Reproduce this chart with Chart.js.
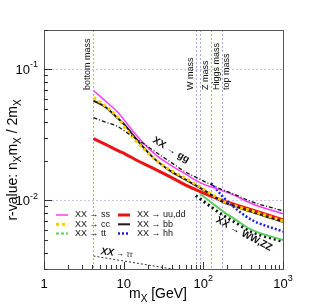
<!DOCTYPE html>
<html>
<head>
<meta charset="utf-8">
<script src="https://cdn.jsdelivr.net/npm/chart.js@4.4.1/dist/chart.umd.min.js"></script>
<style>
	html, body { margin: 0; padding: 0; background: #fff; }
	#wrap { width: 315px; height: 306px; }
</style>
</head>
<body>
<div id="wrap"><canvas id="chart" width="315" height="306"></canvas></div>
<script>
// dark matter mass grid (GeV) shared by the light-quark / gluon channels
const massGrid = [4.18, 6, 8.5, 10.5, 15, 25, 38, 60, 91, 125, 173, 250, 400, 1000];
const rSS = [0.0691, 0.0569, 0.0469, 0.0400, 0.0307, 0.0224, 0.0188, 0.0159, 0.0137, 0.0127, 0.0119, 0.0109, 0.00949, 0.00791];
const rCC = [0.0611, 0.0521, 0.0429, 0.0354, 0.0276, 0.0205, 0.0172, 0.0147, 0.0127, 0.0112, 0.00995, 0.00911, 0.00834, 0.00699];
const rUU = [0.0297, 0.0267, 0.0240, 0.0226, 0.0201, 0.0173, 0.0152, 0.0131, 0.0117, 0.0108, 0.0100, 0.00930, 0.00852, 0.00712];
const rBB = [0.0579, 0.0512, 0.0422, 0.0373, 0.0286, 0.0205, 0.0169, 0.0144, 0.0125, 0.0111, 0.00978, 0.00903, 0.00819, 0.00687];
const rGG = [0.0429, 0.0395, 0.0366, 0.0335, 0.0291, 0.0235, 0.0198, 0.0165, 0.0145, 0.0132, 0.0121, 0.0111, 0.00981, 0.00834];

// channels that open up above a threshold
const massHH = [125, 173, 250, 400, 1000];
const rHH = [0.0136, 0.0108, 0.00876, 0.00714, 0.00579];
const massTT = [91, 125, 173, 250, 400, 1000];
const rTT = [0.0112, 0.00970, 0.00834, 0.00718, 0.00599, 0.00500];
const massWW = [80.4, 91, 125, 173, 250, 400, 1000];
const rWW = [0.0109, 0.0103, 0.00895, 0.00777, 0.00682, 0.00579, 0.00486];
const massTauTau = [4.18, 45];
const rTauTau = [0.00377, 0.00297];

// reference masses drawn as vertical lines
const refMasses = [4.18, 80.4, 91.2, 125.1, 173.0];
const refLabels = ["bottom mass", "W mass", "Z mass", "Higgs mass", "top mass"];

// axis decades and their labels (base, exponent)
const xDecades = [1, 10, 100, 1000];
const xTickLabels = [["1", ""], ["10", ""], ["10", "2"], ["10", "3"]];
const yDecades = [0.01, 0.1];
const yTickLabels = [["10", "-2"], ["10", "-1"]];

const FONT = '"Liberation Sans", Arial, Helvetica, sans-serif';

const pts = (xs, ys) => xs.map((x, i) => ({ x, y: ys[i] }));

function series(label, xs, ys, color, width, dash, legendDash) {
	return {
		label,
		data: pts(xs, ys),
		borderColor: color,
		backgroundColor: color,
		borderWidth: width,
		borderDash: dash,
		legendDash: legendDash || dash,
		pointRadius: 0,
		fill: false,
		cubicInterpolationMode: "monotone",
	};
}

// index 0 is drawn on top
const datasets = [
	series("XX \u2192 gg", massGrid, rGG, "#111111", 1.3, [4, 2, 1, 2]),
	series("XX \u2192 ss", massGrid, rSS, "#ff3cff", 1.5, []),
	series("XX \u2192 hh", massHH, rHH, "#1f1fe8", 2.5, [2, 2]),
	series("XX \u2192 cc", massGrid, rCC, "#ffcc00", 3, [3, 3]),
	series("XX \u2192 bb", massGrid, rBB, "#1a1a1a", 2, []),
	series("XX \u2192 uu,dd", massGrid, rUU, "#ee1111", 3, []),
	series("XX \u2192 tt", massTT, rTT, "#5ccc5c", 2, [], [3, 2]),
	series("XX \u2192 WW,ZZ", massWW, rWW, "#111111", 3, [2, 3]),
	series("XX \u2192 \u03c4\u03c4", massTauTau, rTauTau, "#333333", 1, [2, 2]),
];

// legend layout: which dataset goes in which column
const legendCols = [
	["XX \u2192 ss", "XX \u2192 cc", "XX \u2192 tt"],
	["XX \u2192 uu,dd", "XX \u2192 bb", "XX \u2192 hh"],
];

function richText(ctx, parts, x, y, size, align) {
	// parts: [text, kind] with kind "", "sub" or "sup"
	const fontFor = (k) => (k ? Math.round(size * 0.7) : size) + "px " + FONT;
	let total = 0;
	parts.forEach(([t, k]) => {
		ctx.font = fontFor(k);
		total += ctx.measureText(t).width;
	});
	let cx = align === "center" ? x - total / 2 : align === "right" ? x - total : x;
	ctx.textAlign = "left";
	parts.forEach(([t, k]) => {
		ctx.font = fontFor(k);
		const dy = k === "sub" ? size * 0.25 : k === "sup" ? -size * 0.42 : 0;
		ctx.fillText(t, cx, y + dy);
		cx += ctx.measureText(t).width;
	});
}

function seg(ctx, x1, y1, x2, y2) {
	ctx.beginPath();
	ctx.moveTo(x1, y1);
	ctx.lineTo(x2, y2);
	ctx.stroke();
}

const rootStyle = {
	id: "rootStyle",
	beforeDatasetsDraw(chart) {
		const { ctx, chartArea: a, scales: { x, y } } = chart;
		ctx.save();
		ctx.lineWidth = 1;
		ctx.setLineDash([2, 2]);
		ctx.strokeStyle = "#c6c6f2";
		yDecades.forEach((v) => {
			const py = Math.round(y.getPixelForValue(v)) + 0.5;
			seg(ctx, a.left, py, a.right, py);
		});
		ctx.strokeStyle = "#a9a9ee";
		refMasses.forEach((m) => {
			const px = Math.round(x.getPixelForValue(m)) + 0.5;
			seg(ctx, px, a.top, px, a.bottom);
		});
		ctx.setLineDash([]);

		// vertical mass labels
		const offs = [-6, -5, 5.5, 5, 4];
		ctx.fillStyle = "#111";
		ctx.font = "9px " + FONT;
		ctx.textBaseline = "middle";
		ctx.textAlign = "left";
		refMasses.forEach((m, i) => {
			ctx.save();
			ctx.translate(x.getPixelForValue(m) + offs[i], 90);
			ctx.rotate(-Math.PI / 2);
			ctx.fillText(refLabels[i], 0, 0);
			ctx.restore();
		});
		ctx.restore();
	},
	afterDatasetsDraw(chart) {
		const { ctx, chartArea: a, scales: { x, y } } = chart;
		ctx.save();

		// frame
		ctx.strokeStyle = "#555";
		ctx.lineWidth = 1;
		ctx.strokeRect(a.left + 0.5, a.top + 0.5, a.right - a.left, a.bottom - a.top);

		// ticks (ROOT style, inside the frame)
		ctx.strokeStyle = "#333";
		[0.001, 0.01, 0.1].forEach((d) => {
			for (let k = 1; k <= 9; k++) {
				const v = k * d;
				if (v < y.min || v > y.max) continue;
				const py = Math.round(y.getPixelForValue(v)) + 0.5;
				seg(ctx, a.left, py, a.left + (k === 1 ? 8 : 4), py);
			}
		});
		[1, 10, 100].forEach((d) => {
			for (let k = 1; k <= 10; k++) {
				const v = k * d;
				if (v > x.max) continue;
				const px = Math.round(x.getPixelForValue(v)) + 0.5;
				seg(ctx, px, a.bottom, px, a.bottom - (k === 1 || k === 10 ? 7 : 4));
			}
		});

		// tick labels
		ctx.fillStyle = "#000";
		ctx.textBaseline = "middle";
		yDecades.forEach((v, i) => {
			const [b, e] = yTickLabels[i];
			richText(ctx, [[b, ""], [e, "sup"]], a.left - 6, y.getPixelForValue(v) + 1, 13, "right");
		});
		xDecades.forEach((v, i) => {
			const [b, e] = xTickLabels[i];
			richText(ctx, [[b, ""], [e, "sup"]], x.getPixelForValue(v), a.bottom + 15, 13, "center");
		});

		// axis titles
		ctx.textBaseline = "alphabetic";
		richText(ctx, [["m", ""], ["X", "sub"], [" [GeV]", ""]], 158, 298, 14, "center");
		ctx.save();
		ctx.translate(17, 160);
		ctx.rotate(-Math.PI / 2);
		richText(ctx, [["r-value: n", ""], ["X", "sub"], ["m", ""], ["X", "sub"], [" / 2m", ""], ["X", "sub"]], 0, 0, 14, "center");
		ctx.restore();

		// channel annotations along the curves
		ctx.textBaseline = "middle";
		ctx.textAlign = "center";
		ctx.fillStyle = "#111";
		[["XX \u2192 gg", 171, 150, 31], ["XX \u2192 WW,ZZ", 244, 234, 28]].forEach(([t, cx, cy, deg]) => {
			ctx.save();
			ctx.translate(cx, cy);
			ctx.rotate((deg * Math.PI) / 180);
			ctx.font = "bold 10px " + FONT;
			ctx.fillText(t, 0, 0);
			ctx.restore();
		});
		ctx.save();
		ctx.translate(114, 253);
		ctx.rotate((6 * Math.PI) / 180);
		ctx.textAlign = "right";
		ctx.font = "italic bold 10px " + FONT;
		ctx.fillText("XX", 0, 0);
		ctx.textAlign = "left";
		ctx.font = "8px " + FONT;
		ctx.fillText(" \u2192 \u03c4\u03c4", 0, 0);
		ctx.restore();

		// legend
		const colX = [56, 118];
		const rowY = [215, 224.3, 233.5];
		ctx.font = "9px " + FONT;
		ctx.textAlign = "left";
		legendCols.forEach((col, ci) => {
			col.forEach((label, ri) => {
				const ds = chart.data.datasets.find((d) => d.label === label);
				const ly = rowY[ri];
				ctx.strokeStyle = ds.borderColor;
				ctx.lineWidth = ds.borderWidth;
				ctx.setLineDash(ds.legendDash);
				seg(ctx, colX[ci], ly, colX[ci] + 12, ly);
				ctx.setLineDash([]);
				ctx.fillStyle = "#111";
				ctx.fillText(label, colX[ci] + 19, ly);
			});
		});
		ctx.restore();
	},
};

new Chart(document.getElementById("chart"), {
	type: "line",
	data: { datasets },
	options: {
		responsive: false,
		devicePixelRatio: 1,
		animation: false,
		parsing: true,
		layout: { padding: { left: 44, top: 30, right: 32, bottom: 37 } },
		plugins: {
			legend: { display: false },
			tooltip: { enabled: false },
		},
		scales: {
			x: { type: "logarithmic", min: 1, max: 1000, display: false },
			y: { type: "logarithmic", min: 0.003, max: 0.2, display: false },
		},
	},
	plugins: [rootStyle],
});
</script>
</body>
</html>
